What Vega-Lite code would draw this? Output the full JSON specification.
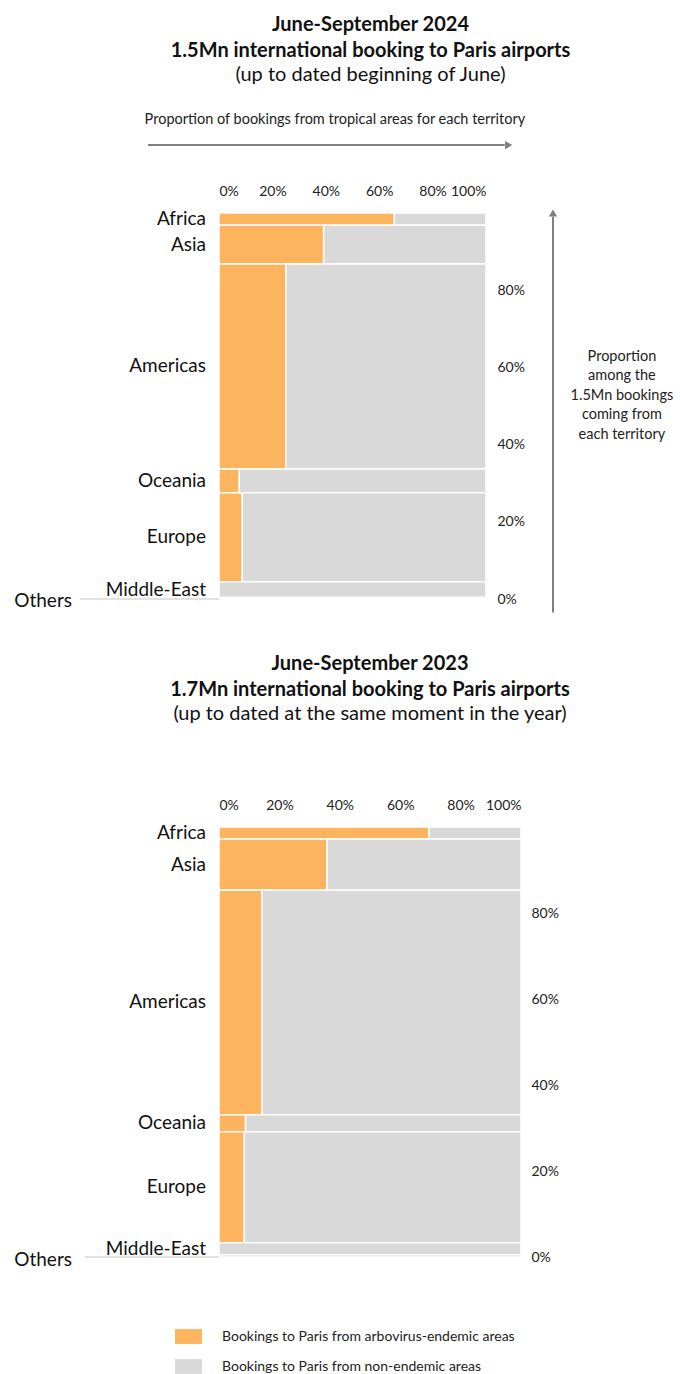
{
  "$schema": "https://vega.github.io/schema/vega-lite/v6.json",
  "padding": {"left": 14, "top": 15, "right": 5, "bottom": 5},
  "background": "white",
  "config": {
    "font": "Lato",
    "view": {"stroke": null},
    "title": {"font": "Lato", "fontSize": 20, "fontWeight": "bold", "color": "#111", "subtitleFont": "Lato", "subtitleFontSize": 20, "subtitleColor": "#111", "subtitlePadding": 4, "lineHeight": 26, "subtitleLineHeight": 26},
    "axis": {"labelFont": "Lato", "labelFontSize": 14, "labelColor": "#222", "domain": false, "ticks": false, "grid": false, "title": null}
  },
  "datasets": {
    "d2024": [
      {"region": "Africa", "ord": 1, "share": 0.032, "endemic": 0.657},
      {"region": "Asia", "ord": 2, "share": 0.100, "endemic": 0.392},
      {"region": "Americas", "ord": 3, "share": 0.531, "endemic": 0.250},
      {"region": "Oceania", "ord": 4, "share": 0.062, "endemic": 0.076},
      {"region": "Europe", "ord": 5, "share": 0.230, "endemic": 0.087},
      {"region": "Middle-East", "ord": 6, "share": 0.041, "endemic": 0.0},
      {"region": "Others", "ord": 7, "share": 0.004, "endemic": 0.0}
    ],
    "d2023": [
      {"region": "Africa", "ord": 1, "share": 0.028, "endemic": 0.695},
      {"region": "Asia", "ord": 2, "share": 0.119, "endemic": 0.358},
      {"region": "Americas", "ord": 3, "share": 0.522, "endemic": 0.142},
      {"region": "Oceania", "ord": 4, "share": 0.040, "endemic": 0.088},
      {"region": "Europe", "ord": 5, "share": 0.258, "endemic": 0.084},
      {"region": "Middle-East", "ord": 6, "share": 0.028, "endemic": 0.0},
      {"region": "Others", "ord": 7, "share": 0.005, "endemic": 0.0}
    ]
  },
  "resolve": {"scale": {"x": "independent", "y": "independent", "color": "shared"}},
  "spacing": 40,
  "vconcat": [
    {
      "width": 267,
      "height": 386,
      "title": {"text": ["June-September 2024", "1.5Mn international booking to Paris airports"], "subtitle": "(up to dated beginning of June)", "anchor": "middle", "frame": "group", "dx": 18, "offset": 27},
      "data": {"name": "d2024"},
      "transform": [
        {"stack": "share", "groupby": [], "sort": [{"field": "ord", "order": "descending"}], "as": ["y0", "y1"]},
        {"calculate": "(datum.y0 + datum.y1) / 2", "as": "ymid"}
      ],
      "layer": [
        {
          "mark": {"type": "rect", "stroke": "white", "strokeWidth": 1.5},
          "encoding": {
            "x": {"field": "endemic", "type": "quantitative", "scale": {"domain": [0, 1], "nice": false}, "axis": {"orient": "top", "values": [0, 0.2, 0.4, 0.6, 0.8, 1], "format": ".0%", "labelPadding": 15}},
            "x2": {"datum": 0},
            "y": {"field": "y0", "type": "quantitative", "scale": {"domain": [0, 1], "nice": false}, "axis": {"orient": "right", "values": [0, 0.2, 0.4, 0.6, 0.8], "format": ".0%", "labelPadding": 11}},
            "y2": {"field": "y1"},
            "color": {"datum": "endemic", "type": "nominal", "scale": {"domain": ["endemic", "nonendemic"], "range": ["#FDB45F", "#D9D9D9"]}, "legend": {"title": null, "orient": "none", "legendX": -44, "legendY": 1110, "direction": "vertical", "labelExpr": "datum.value == 'endemic' ? 'Bookings to Paris from arbovirus-endemic areas' : 'Bookings to Paris from non-endemic areas'", "symbolType": "M-1,-0.55H1V0.55H-1Z", "symbolSize": 729, "symbolStrokeWidth": 0, "labelFontSize": 14, "labelFont": "Lato", "labelColor": "#222", "labelOffset": 20, "labelLimit": 0, "rowPadding": 9}}
          }
        },
        {
          "mark": {"type": "rect", "stroke": "white", "strokeWidth": 1.5},
          "encoding": {
            "x": {"field": "endemic", "type": "quantitative"},
            "x2": {"datum": 1},
            "y": {"field": "y0", "type": "quantitative"},
            "y2": {"field": "y1"},
            "color": {"datum": "nonendemic", "type": "nominal"}
          }
        },
        {
          "transform": [{"filter": "datum.region != 'Others'"}],
          "mark": {"type": "text", "align": "right", "baseline": "middle", "dx": -13, "fontSize": 19, "color": "#111"},
          "encoding": {"x": {"datum": 0}, "y": {"field": "ymid", "type": "quantitative"}, "text": {"field": "region"}}
        },
        {
          "transform": [{"filter": "datum.region == 'Others'"}],
          "mark": {"type": "text", "align": "right", "baseline": "middle", "dx": -147, "dy": 3, "fontSize": 19, "color": "#111"},
          "encoding": {"x": {"datum": 0}, "y": {"field": "ymid", "type": "quantitative"}, "text": {"field": "region"}}
        },
        {
          "transform": [{"filter": "datum.region == 'Others'"}],
          "mark": {"type": "rule", "color": "#D9D9D9", "strokeWidth": 1.5},
          "encoding": {"x": {"datum": -0.52}, "x2": {"datum": 0}, "y": {"field": "y0", "type": "quantitative"}}
        },
        {
          "data": {"values": [{"caption": "Proportion of bookings from tropical areas for each territory"}]},
          "mark": {"type": "text", "align": "center", "baseline": "middle", "fontSize": 14.5, "color": "#222"},
          "encoding": {"x": {"datum": 0.434}, "y": {"datum": 1.24}, "text": {"field": "caption"}}
        },
        {
          "data": {"values": [{"arrow": "horizontal"}]},
          "mark": {"type": "rule", "color": "#7F7F7F", "strokeWidth": 2},
          "encoding": {"x": {"datum": -0.266}, "x2": {"datum": 1.07}, "y": {"datum": 1.176}}
        },
        {
          "data": {"values": [{"arrow": "horizontal"}]},
          "mark": {"type": "point", "shape": "triangle-right", "filled": true, "color": "#7F7F7F", "size": 70, "opacity": 1},
          "encoding": {"x": {"datum": 1.085}, "y": {"datum": 1.176}}
        },
        {
          "data": {"values": [{"arrow": "vertical"}]},
          "mark": {"type": "rule", "color": "#7F7F7F", "strokeWidth": 2},
          "encoding": {"x": {"datum": 1.251}, "y": {"datum": -0.035}, "y2": {"datum": 0.99}}
        },
        {
          "data": {"values": [{"arrow": "vertical"}]},
          "mark": {"type": "point", "shape": "triangle-up", "filled": true, "color": "#7F7F7F", "size": 70, "opacity": 1},
          "encoding": {"x": {"datum": 1.251}, "y": {"datum": 1.0}}
        },
        {
          "data": {"values": [{"note": "Proportion among the 1.5Mn bookings coming from each territory"}]},
          "mark": {"type": "text", "align": "center", "baseline": "middle", "fontSize": 14.5, "lineHeight": 19.5, "color": "#222"},
          "encoding": {"x": {"datum": 1.509}, "y": {"datum": 0.627}, "text": {"value": ["Proportion", "among the", "1.5Mn bookings", "coming from", "each territory"]}}
        }
      ]
    },
    {
      "width": 302,
      "height": 430,
      "title": {"text": ["June-September 2023", "1.7Mn international booking to Paris airports"], "subtitle": "(up to dated at the same moment in the year)", "anchor": "middle", "frame": "group", "dx": 0, "offset": 74},
      "data": {"name": "d2023"},
      "transform": [
        {"stack": "share", "groupby": [], "sort": [{"field": "ord", "order": "descending"}], "as": ["y0", "y1"]},
        {"calculate": "(datum.y0 + datum.y1) / 2", "as": "ymid"}
      ],
      "layer": [
        {
          "mark": {"type": "rect", "stroke": "white", "strokeWidth": 1.5},
          "encoding": {
            "x": {"field": "endemic", "type": "quantitative", "scale": {"domain": [0, 1], "nice": false}, "axis": {"orient": "top", "values": [0, 0.2, 0.4, 0.6, 0.8, 1], "format": ".0%", "labelPadding": 15}},
            "x2": {"datum": 0},
            "y": {"field": "y0", "type": "quantitative", "scale": {"domain": [0, 1], "nice": false}, "axis": {"orient": "right", "values": [0, 0.2, 0.4, 0.6, 0.8], "format": ".0%", "labelPadding": 10}},
            "y2": {"field": "y1"},
            "color": {"datum": "endemic", "type": "nominal"}
          }
        },
        {
          "mark": {"type": "rect", "stroke": "white", "strokeWidth": 1.5},
          "encoding": {
            "x": {"field": "endemic", "type": "quantitative"},
            "x2": {"datum": 1},
            "y": {"field": "y0", "type": "quantitative"},
            "y2": {"field": "y1"},
            "color": {"datum": "nonendemic", "type": "nominal"}
          }
        },
        {
          "transform": [{"filter": "datum.region != 'Others'"}],
          "mark": {"type": "text", "align": "right", "baseline": "middle", "dx": -13, "fontSize": 19, "color": "#111"},
          "encoding": {"x": {"datum": 0}, "y": {"field": "ymid", "type": "quantitative"}, "text": {"field": "region"}}
        },
        {
          "transform": [{"filter": "datum.region == 'Others'"}],
          "mark": {"type": "text", "align": "right", "baseline": "middle", "dx": -147, "dy": 4, "fontSize": 19, "color": "#111"},
          "encoding": {"x": {"datum": 0}, "y": {"field": "ymid", "type": "quantitative"}, "text": {"field": "region"}}
        },
        {
          "transform": [{"filter": "datum.region == 'Others'"}],
          "mark": {"type": "rule", "color": "#D9D9D9", "strokeWidth": 1.5},
          "encoding": {"x": {"datum": -0.444}, "x2": {"datum": 0}, "y": {"field": "y0", "type": "quantitative"}}
        }
      ]
    }
  ]
}
